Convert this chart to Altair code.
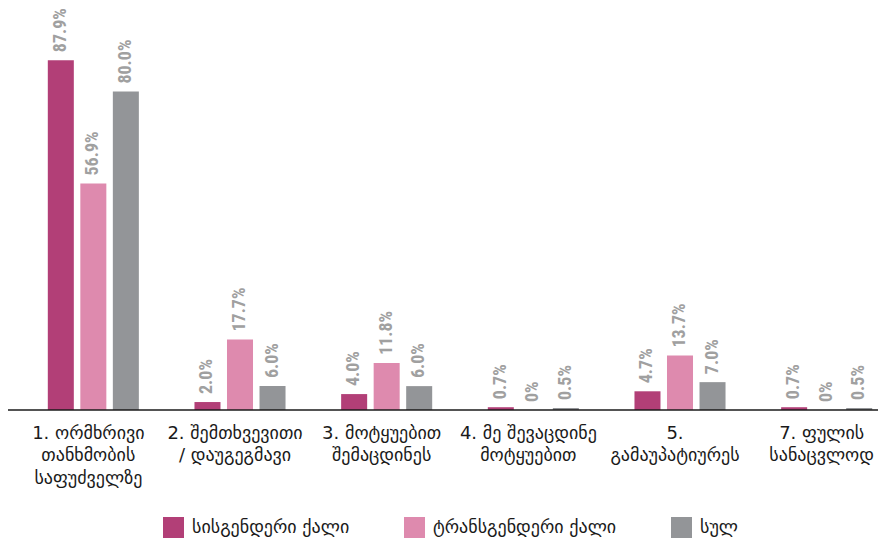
import altair as alt
import pandas as pd

categories = [
    "1. ორმხრივი\nთანხმობის\nსაფუძველზე",
    "2. შემთხვევითი\n/ დაუგეგმავი",
    "3. მოტყუებით\nშემაცდინეს",
    "4. მე შევაცდინე\nმოტყუებით",
    "5.\nგამაუპატიურეს",
    "7. ფულის\nსანაცვლოდ",
]
series = ["სისგენდერი ქალი", "ტრანსგენდერი ქალი", "სულ"]
cis_values = [87.9, 2.0, 4.0, 0.7, 4.7, 0.7]
trans_values = [56.9, 17.7, 11.8, 0.0, 13.7, 0.0]
total_values = [80.0, 6.0, 6.0, 0.5, 7.0, 0.5]
colors = ["#b23f77", "#de8aae", "#939598"]

rows = []
for s, vals in zip(series, [cis_values, trans_values, total_values]):
    for c, v in zip(categories, vals):
        rows.append({"cat": c, "series": s, "v": v})
df = pd.DataFrame(rows)

W, H = 870, 398

base = alt.Chart(df).encode(
    x=alt.X(
        "cat:N",
        sort=categories,
        scale=alt.Scale(range=[12, 892], paddingInner=0, paddingOuter=0),
        axis=alt.Axis(
            title=None, domain=False, ticks=False, labelAngle=0,
            labelExpr="split(datum.label, '\\n')",
            labelFont="DejaVu Sans", labelFontSize=18, labelLineHeight=22.5,
            labelColor="#1a1a1a", labelPadding=14, labelLimit=300,
            labelOffset=-5,
        ),
    ),
    xOffset=alt.XOffset(
        "series:N", sort=series,
        scale=alt.Scale(paddingInner=0.2, paddingOuter=0.855),
    ),
    y=alt.Y("v:Q", scale=alt.Scale(domain=[0, 100]), axis=None),
)

bars = base.mark_bar().encode(
    color=alt.Color(
        "series:N", sort=series,
        scale=alt.Scale(domain=series, range=colors),
        legend=alt.Legend(
            title=None, orient="none", legendX=155, legendY=505,
            direction="horizontal", symbolType="square", symbolSize=441,
            symbolStrokeWidth=0, labelFont="DejaVu Sans", labelFontSize=18,
            labelColor="#1a1a1a", columnPadding=54, labelOffset=8,
            padding=0, labelLimit=300,
        ),
    )
)

labels = base.transform_calculate(
    lbl="datum.v == 0 ? '0%' : format(datum.v, '.1f') + '%'"
).mark_text(
    angle=270, align="left", baseline="middle", dx=8,
    font="Liberation Sans Narrow, Roboto Condensed, DejaVu Sans Condensed",
    fontWeight="bold", fontSize=18, color="#a0a0a0",
).encode(text="lbl:N")

axis_line = alt.Chart(pd.DataFrame({"z": [0]})).mark_rule(
    color="#1a1a1a", strokeWidth=1.5
).encode(y=alt.datum(0), x=alt.value(-1), x2=alt.value(W))

chart = alt.layer(bars, labels, axis_line).properties(
    width=W, height=H,
    autosize=alt.AutoSizeParams(type="none"),
    padding={"top": 4, "left": 0, "right": 0, "bottom": 128},
).configure_view(stroke=None)

chart.save("out.html", embed_options={"renderer": "svg", "actions": False})
